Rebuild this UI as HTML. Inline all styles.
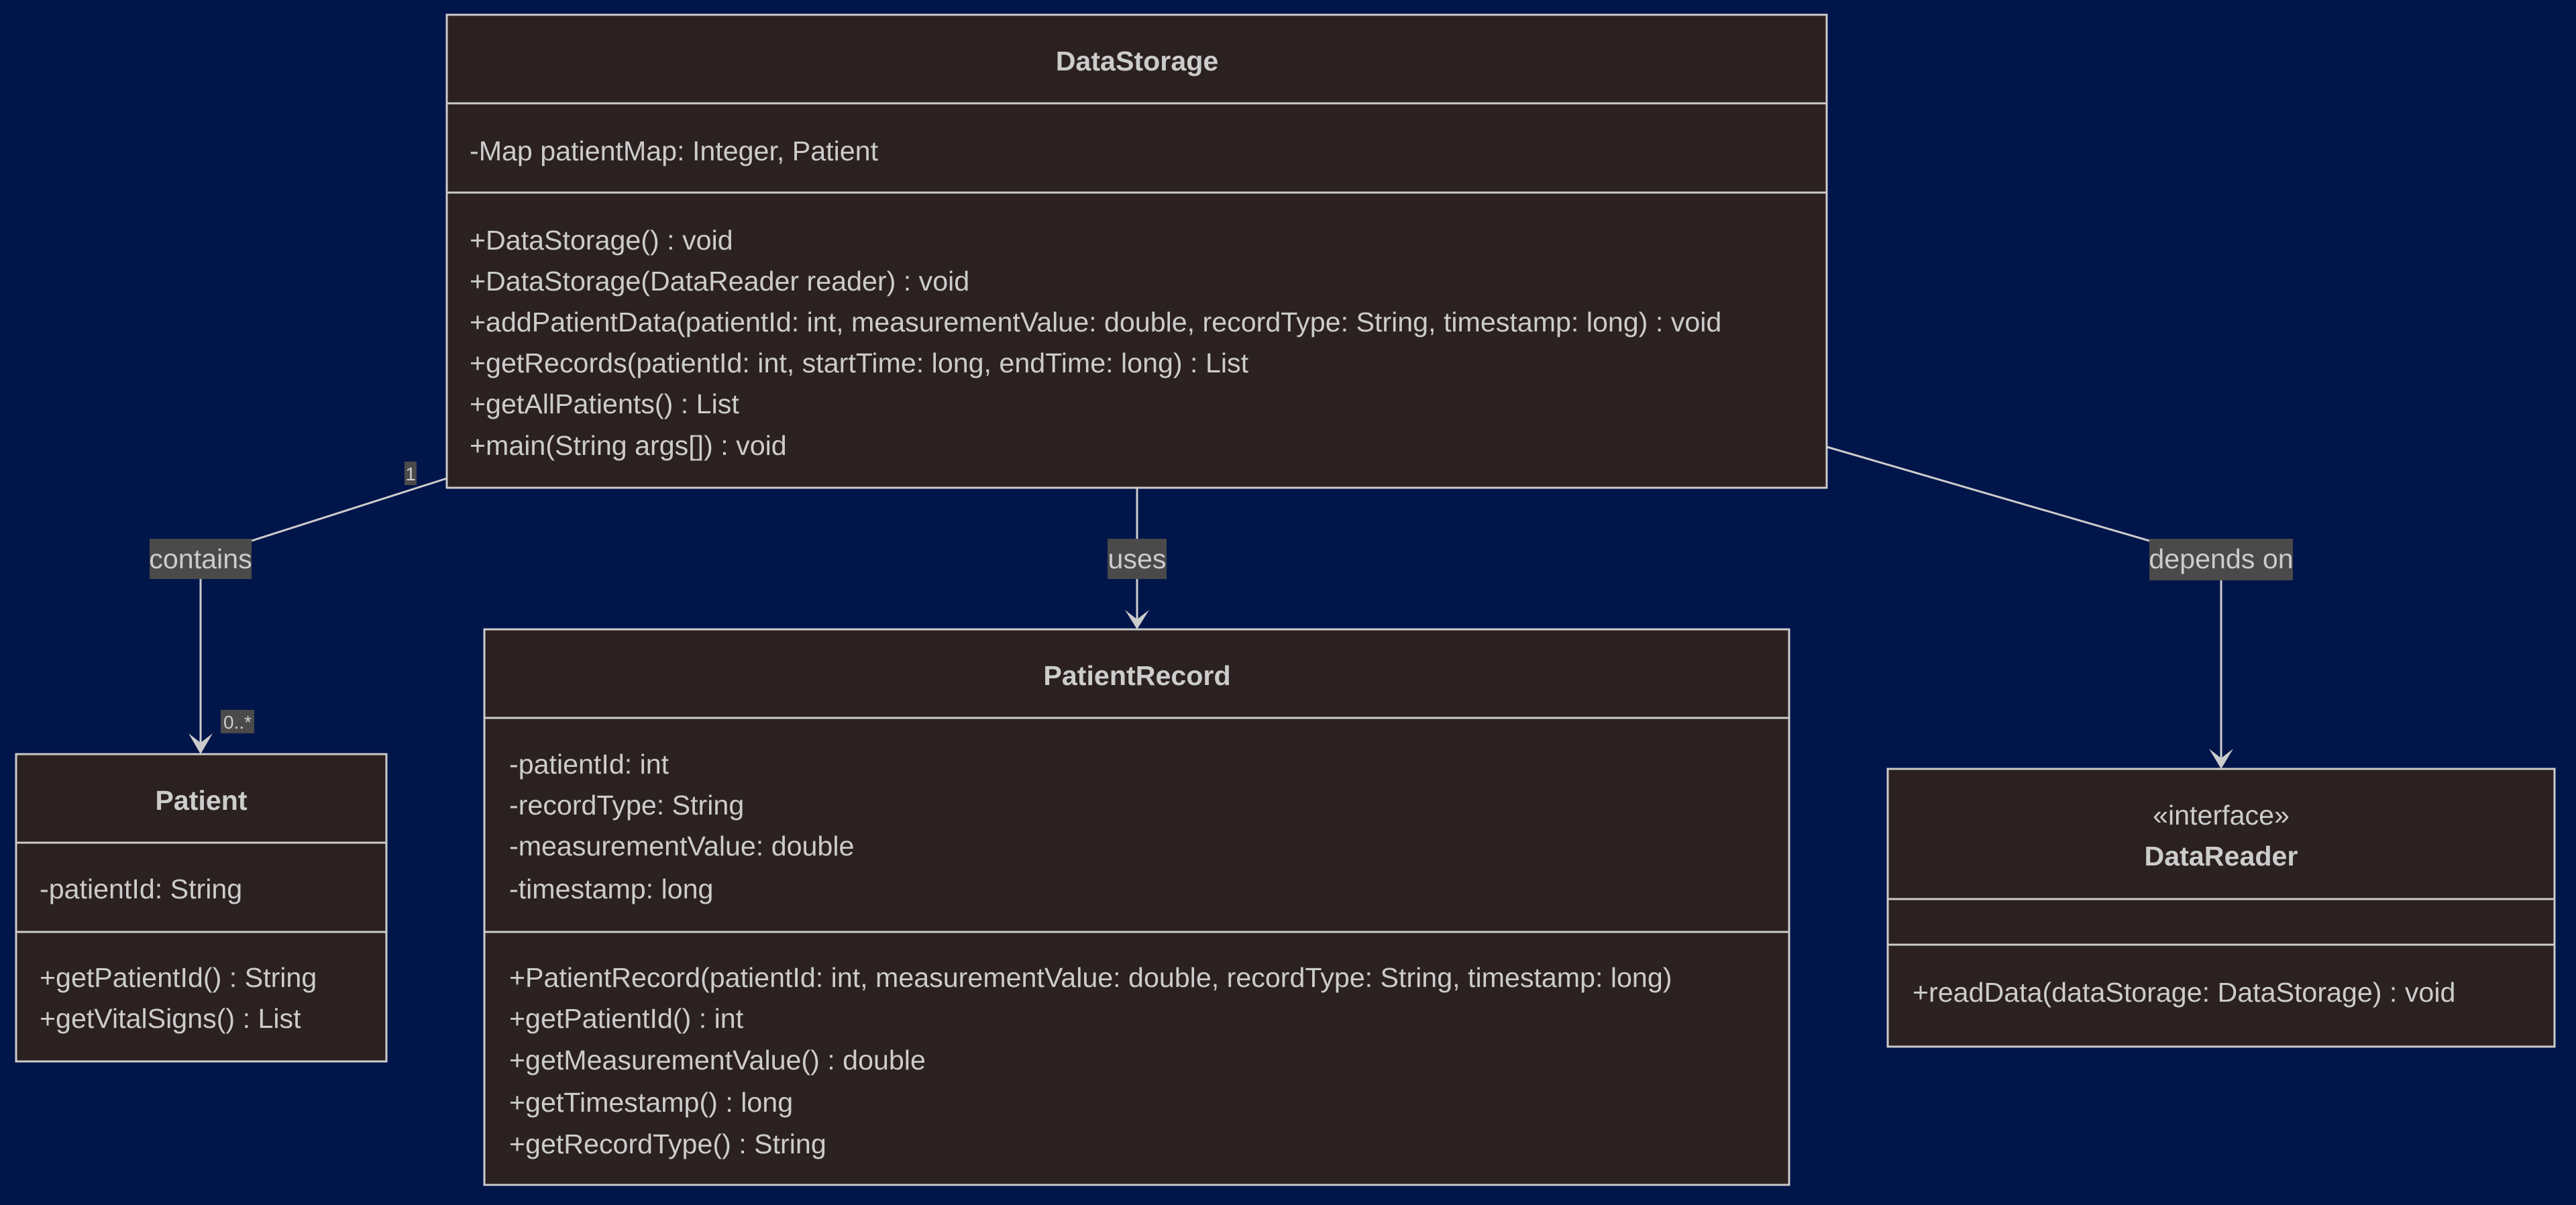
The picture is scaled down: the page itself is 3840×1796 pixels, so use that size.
<!DOCTYPE html>
<html><head><meta charset="utf-8"><style>
html,body{margin:0;padding:0;background:#00154a;}
svg{display:block}
text{font-family:"Liberation Sans",Arial,sans-serif;fill:#cccccc;font-size:41.2px}
.b{font-weight:bold}
.box{fill:#2b2120;stroke:#cccccc;stroke-width:3}
.ln{stroke:#cccccc;stroke-width:3}
.edge{stroke:#cccccc;stroke-width:3;fill:none}
.lbl{fill:#4a4a4a}
</style></head><body>
<svg width="3840" height="1796" viewBox="0 0 3840 1796" xmlns="http://www.w3.org/2000/svg">
<rect width="3840" height="1796" fill="#00154a"/>

<!-- edges -->
<polyline class="edge" points="666,713 375,806"/>
<line class="edge" x1="299" y1="862" x2="299" y2="1110"/>
<polygon points="281,1093 299,1107 317,1093 299,1124" fill="#cccccc"/>
<rect class="lbl" x="223" y="803" width="152" height="60"/>
<text x="299" y="847" text-anchor="middle">contains</text>
<rect class="lbl" x="603" y="688" width="18" height="35"/>
<text x="612" y="716" text-anchor="middle" style="font-size:28px">1</text>
<rect class="lbl" x="329" y="1058" width="50" height="35"/>
<text x="354" y="1086" text-anchor="middle" style="font-size:28px">0..*</text>

<line class="edge" x1="1695" y1="727" x2="1695" y2="925"/>
<polygon points="1677,909 1695,923 1713,909 1695,938" fill="#cccccc"/>
<rect class="lbl" x="1651" y="803" width="88" height="60"/>
<text x="1695" y="847" text-anchor="middle">uses</text>

<polyline class="edge" points="2723,666 3204,806"/>
<line class="edge" x1="3311" y1="862" x2="3311" y2="1132"/>
<polygon points="3293,1116 3311,1130 3329,1116 3311,1146" fill="#cccccc"/>
<rect class="lbl" x="3204" y="803" width="214" height="62"/>
<text x="3311" y="847" text-anchor="middle">depends on</text>

<!-- DataStorage -->
<rect class="box" x="666" y="22" width="2057" height="705"/>
<line class="ln" x1="666" y1="154" x2="2723" y2="154"/>
<line class="ln" x1="666" y1="287" x2="2723" y2="287"/>
<text class="b" x="1695" y="105" text-anchor="middle">DataStorage</text>
<text x="700" y="239">-Map patientMap: Integer, Patient</text>
<text x="700" y="372">+DataStorage() : void</text>
<text x="700" y="433">+DataStorage(DataReader reader) : void</text>
<text x="700" y="494">+addPatientData(patientId: int, measurementValue: double, recordType: String, timestamp: long) : void</text>
<text x="700" y="555">+getRecords(patientId: int, startTime: long, endTime: long) : List</text>
<text x="700" y="616">+getAllPatients() : List</text>
<text x="700" y="678">+main(String args[]) : void</text>

<!-- Patient -->
<rect class="box" x="24" y="1124" width="552" height="458"/>
<line class="ln" x1="24" y1="1256" x2="576" y2="1256"/>
<line class="ln" x1="24" y1="1389" x2="576" y2="1389"/>
<text class="b" x="300" y="1207" text-anchor="middle">Patient</text>
<text x="59" y="1339">-patientId: String</text>
<text x="59" y="1471">+getPatientId() : String</text>
<text x="59" y="1532">+getVitalSigns() : List</text>

<!-- PatientRecord -->
<rect class="box" x="722" y="938" width="1945" height="828"/>
<line class="ln" x1="722" y1="1070" x2="2667" y2="1070"/>
<line class="ln" x1="722" y1="1389" x2="2667" y2="1389"/>
<text class="b" x="1695" y="1021" text-anchor="middle">PatientRecord</text>
<text x="759" y="1153">-patientId: int</text>
<text x="759" y="1214">-recordType: String</text>
<text x="759" y="1275">-measurementValue: double</text>
<text x="759" y="1339">-timestamp: long</text>
<text x="759" y="1471">+PatientRecord(patientId: int, measurementValue: double, recordType: String, timestamp: long)</text>
<text x="759" y="1532">+getPatientId() : int</text>
<text x="759" y="1594">+getMeasurementValue() : double</text>
<text x="759" y="1657">+getTimestamp() : long</text>
<text x="759" y="1719">+getRecordType() : String</text>

<!-- DataReader -->
<rect class="box" x="2814" y="1146" width="994" height="414"/>
<line class="ln" x1="2814" y1="1340" x2="3808" y2="1340"/>
<line class="ln" x1="2814" y1="1408" x2="3808" y2="1408"/>
<text x="3311" y="1229" text-anchor="middle">«interface»</text>
<text class="b" x="3311" y="1290" text-anchor="middle">DataReader</text>
<text x="2851" y="1493">+readData(dataStorage: DataStorage) : void</text>
</svg>
</body></html>
